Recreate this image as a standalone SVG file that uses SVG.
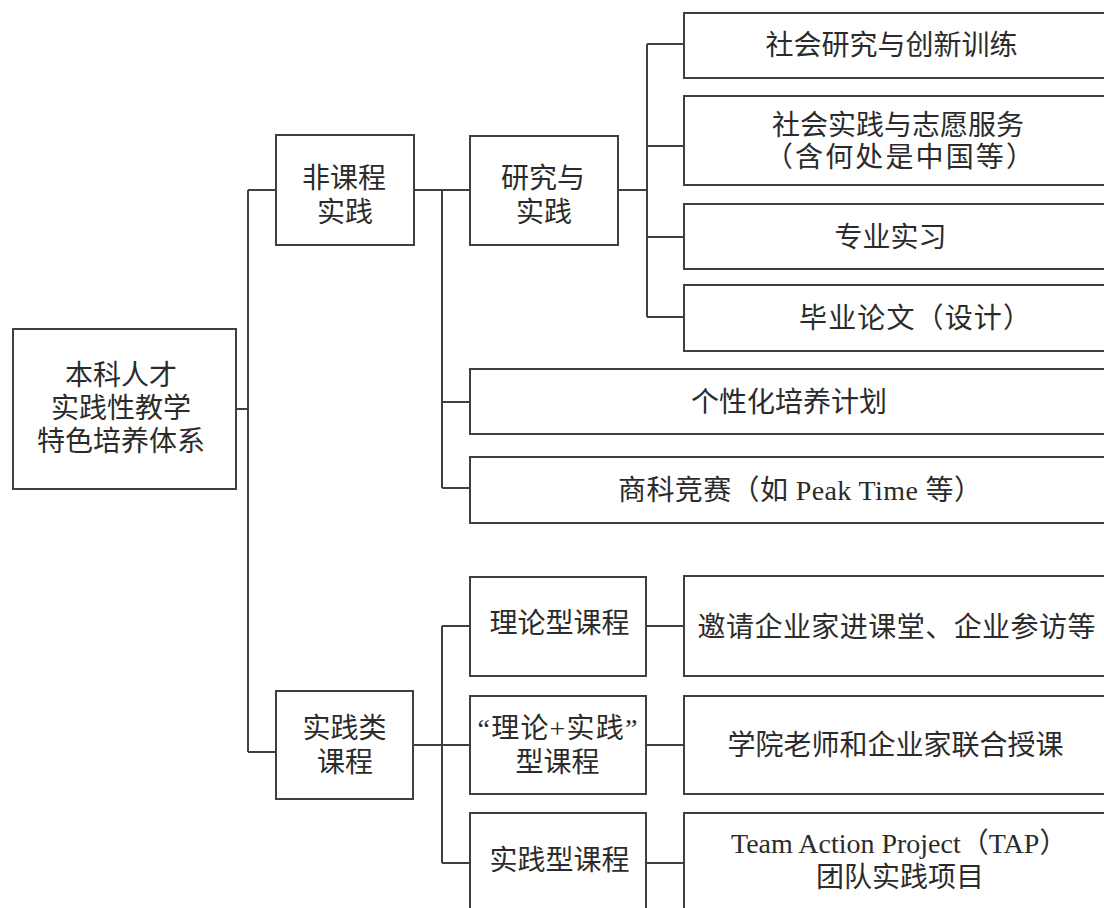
<svg xmlns="http://www.w3.org/2000/svg" width="1104" height="908" viewBox="0 0 1104 908">
<style>
.box{fill:#ffffff;stroke:#404040;stroke-width:2}
.ln{fill:none;stroke:#404040;stroke-width:2}
text{font-family:"Liberation Serif","Noto Sans CJK SC",serif;font-size:28px;fill:#2b2b2b}
.m{text-anchor:middle}
</style>
<rect width="1104" height="908" fill="#ffffff"/>
<g id="connectors">
<path class="ln" d="M236,409 H248 M248,190 V752 M248,190 H276 M248,752 H276"/>
<path class="ln" d="M414,190 H470 M442,190 V488 M442,402 H470 M442,488 H470"/>
<path class="ln" d="M618,190 H647 M647,44 V317 M647,44 H684 M647,146 H684 M647,237 H684 M647,317 H684"/>
<path class="ln" d="M413,745 H470 M442,626 V863 M442,626 H470 M442,863 H470"/>
<path class="ln" d="M646,626 H684 M646,745 H684 M646,863 H684"/>
</g>
<g id="root">
<rect class="box" x="13" y="329" width="223" height="160"/>
<text class="m" x="121" y="385">本科人才</text>
<text class="m" x="121" y="418">实践性教学</text>
<text class="m" x="121" y="451">特色培养体系</text>
</g>
<g id="feikecheng">
<rect class="box" x="276" y="135" width="138" height="110"/>
<text class="m" x="344" y="188">非课程</text>
<text class="m" x="345" y="222">实践</text>
</g>
<g id="yanjiu">
<rect class="box" x="470" y="136" width="148" height="109"/>
<text class="m" x="543" y="188">研究与</text>
<text class="m" x="544" y="222">实践</text>
</g>
<g id="r1">
<rect class="box" x="684" y="13" width="424" height="65"/>
<text class="m" x="891.5" y="55">社会研究与创新训练</text>
</g>
<g id="r2">
<rect class="box" x="684" y="96" width="424" height="89"/>
<text class="m" x="898" y="135">社会实践与志愿服务</text>
<text x="765" y="167" textLength="269" lengthAdjust="spacing">（含何处是中国等）</text>
</g>
<g id="r3">
<rect class="box" x="684" y="204" width="424" height="65"/>
<text class="m" x="890.5" y="247">专业实习</text>
</g>
<g id="r4">
<rect class="box" x="684" y="285" width="424" height="66"/>
<text x="799" y="328" textLength="232" lengthAdjust="spacing">毕业论文（设计）</text>
</g>
<g id="gexinghua">
<rect class="box" x="470" y="369" width="638" height="65"/>
<text class="m" x="789" y="412">个性化培养计划</text>
</g>
<g id="shangke">
<rect class="box" x="470" y="457" width="638" height="66"/>
<text x="618" y="500" textLength="364" lengthAdjust="spacing">商科竞赛（如 Peak Time 等）</text>
</g>
<g id="shijianlei">
<rect class="box" x="276" y="691" width="137" height="108"/>
<text class="m" x="344.5" y="738">实践类</text>
<text class="m" x="345" y="772">课程</text>
</g>
<g id="lilunxing">
<rect class="box" x="470" y="577" width="176" height="99"/>
<text class="m" x="559.5" y="633">理论型课程</text>
</g>
<g id="lilunshijian">
<rect class="box" x="470" y="696" width="176" height="98"/>
<text class="m" x="557.5" y="738" textLength="160" lengthAdjust="spacing">“理论+实践”</text>
<text class="m" x="557.5" y="772">型课程</text>
</g>
<g id="shijianxing">
<rect class="box" x="470" y="813" width="176" height="110"/>
<text class="m" x="559.5" y="870">实践型课程</text>
</g>
<g id="yaoqing">
<rect class="box" x="684" y="576" width="424" height="100"/>
<text class="m" x="896.5" y="637" textLength="398" lengthAdjust="spacing">邀请企业家进课堂、企业参访等</text>
</g>
<g id="xueyuan">
<rect class="box" x="684" y="696" width="424" height="98"/>
<text class="m" x="895.5" y="755">学院老师和企业家联合授课</text>
</g>
<g id="tap">
<rect class="box" x="684" y="813" width="424" height="110"/>
<text x="731" y="853">Team Action Project（TAP）</text>
<text class="m" x="900" y="887">团队实践项目</text>
</g>
</svg>
